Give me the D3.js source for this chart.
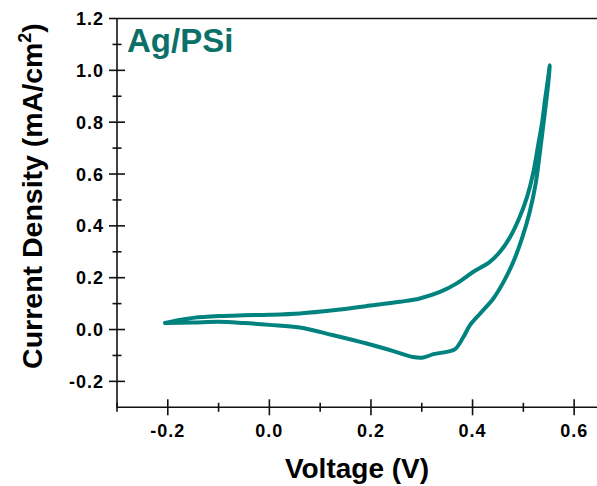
<!DOCTYPE html>
<html>
<head>
<meta charset="utf-8">
<script src="https://cdn.jsdelivr.net/npm/d3@7"></script>
<style>
  body { margin: 0; background: #fff; }
  text { font-family: "Liberation Sans", Arial, sans-serif; font-weight: bold; }
</style>
</head>
<body>
<div id="chart"></div>
<script>
// forward scan, -0.2 V -> 0.55 V (upper branch)
const fwdV = [-0.2055, -0.18, -0.15, -0.1, -0.05, 0.0, 0.06, 0.126, 0.19, 0.257, 0.296, 0.336, 0.369, 0.401, 0.434, 0.454, 0.474, 0.493, 0.507, 0.519, 0.529, 0.537, 0.5425, 0.548, 0.552];
const fwdJ = [0.025, 0.036, 0.045, 0.052, 0.055, 0.057, 0.062, 0.074, 0.09, 0.107, 0.12, 0.145, 0.178, 0.222, 0.261, 0.30, 0.357, 0.435, 0.51, 0.60, 0.71, 0.80, 0.885, 0.96, 1.02];
// reverse scan, 0.55 V -> -0.2 V (lower branch)
const revV = [0.549, 0.545, 0.540, 0.533, 0.524, 0.512, 0.497, 0.480, 0.460, 0.441, 0.415, 0.395, 0.382, 0.365, 0.349, 0.323, 0.303, 0.283, 0.244, 0.1915, 0.126, 0.06, 0.0, -0.05, -0.1, -0.15, -0.2055];
const revJ = [0.95, 0.88, 0.80, 0.69, 0.56, 0.45, 0.35, 0.26, 0.18, 0.12, 0.062, 0.017, -0.029, -0.077, -0.086, -0.095, -0.108, -0.106, -0.083, -0.054, -0.022, 0.008, 0.018, 0.025, 0.030, 0.027, 0.025];

const xMajor = [-0.2, 0.0, 0.2, 0.4, 0.6];
const xMinor = [-0.3, -0.1, 0.1, 0.3, 0.5];
const yMajor = [-0.2, 0.0, 0.2, 0.4, 0.6, 0.8, 1.0, 1.2];
const yMinor = [-0.1, 0.1, 0.3, 0.5, 0.7, 0.9, 1.1];

const width = 597, height = 486;
const margin = {left: 117, top: 18.5, right: 0, bottom: 78.7};
const teal = "#00827e";

const x = d3.scaleLinear().domain([-0.3, 0.645]).range([margin.left, width - margin.right]);
const y = d3.scaleLinear().domain([-0.3, 1.2]).range([height - margin.bottom, margin.top]);

const svg = d3.select("#chart").append("svg")
    .attr("width", width)
    .attr("height", height);

// the loop, forward then reverse
const pts = fwdV.map((v, i) => [v, fwdJ[i]])
    .concat(revV.map((v, i) => [v, revJ[i]]));

const line = d3.line()
    .x(d => x(d[0]))
    .y(d => y(d[1]))
    .curve(d3.curveCatmullRom.alpha(0.5));

svg.append("path")
    .datum(pts)
    .attr("fill", "none")
    .attr("stroke", teal)
    .attr("stroke-width", 4)
    .attr("stroke-linecap", "round")
    .attr("stroke-linejoin", "round")
    .attr("d", line);

// frame: left axis, bottom axis, top line
const x0 = x.range()[0], x1 = x.range()[1];
const y0 = y.range()[0], y1 = y.range()[1];
const ax = svg.append("g").attr("stroke", "#111").attr("stroke-width", 1.6);
ax.append("line").attr("x1", x0).attr("x2", x1).attr("y1", y0).attr("y2", y0);
ax.append("line").attr("x1", x0).attr("x2", x1).attr("y1", y1).attr("y2", y1);
ax.append("line").attr("x1", x0).attr("x2", x0).attr("y1", y1).attr("y2", y0);

// ticks cross the axis lines
ax.selectAll(".xmaj").data(xMajor).join("line")
    .attr("x1", d => x(d)).attr("x2", d => x(d))
    .attr("y1", y0 - 8).attr("y2", y0 + 8);
ax.selectAll(".xmin").data(xMinor).join("line")
    .attr("x1", d => x(d)).attr("x2", d => x(d))
    .attr("y1", y0 - 4.5).attr("y2", y0 + 4.5);
ax.selectAll(".ymaj").data(yMajor).join("line")
    .attr("y1", d => y(d)).attr("y2", d => y(d))
    .attr("x1", x0 - 8).attr("x2", d => d === 1.2 ? x0 : x0 + 8);
ax.selectAll(".ymin").data(yMinor).join("line")
    .attr("y1", d => y(d)).attr("y2", d => y(d))
    .attr("x1", x0 - 4.5).attr("x2", x0 + 4.5);

// plain hyphen for negatives, like the original
const fmt = d3.formatLocale({decimal: ".", thousands: ",", grouping: [3], currency: ["", ""], minus: "-"}).format(".1f");
svg.selectAll(".xlab").data(xMajor).join("text")
    .attr("x", d => x(d))
    .attr("y", 437)
    .attr("text-anchor", "middle")
    .attr("font-size", 18)
    .attr("letter-spacing", 1)
    .text(d => fmt(d));

svg.selectAll(".ylab").data(yMajor).join("text")
    .attr("x", 104)
    .attr("y", d => y(d))
    .attr("dy", "0.36em")
    .attr("text-anchor", "end")
    .attr("font-size", 18)
    .attr("letter-spacing", 1)
    .text(d => fmt(d));

// axis titles
svg.append("text")
    .attr("x", 357)
    .attr("y", 478)
    .attr("text-anchor", "middle")
    .attr("font-size", 28)
    .text("Voltage (V)");

const yt = svg.append("text")
    .attr("transform", "translate(42,196) rotate(-90)")
    .attr("text-anchor", "middle")
    .attr("font-size", 28.5);
yt.append("tspan").text("Current Density (mA/cm");
yt.append("tspan").attr("font-size", 18).attr("dy", -11).text("2");
yt.append("tspan").attr("dy", 11).text(")");

svg.append("text")
    .attr("x", 127)
    .attr("y", 52)
    .attr("fill", "#0b7068")
    .attr("font-size", 33)
    .text("Ag/PSi");
</script>
</body>
</html>
